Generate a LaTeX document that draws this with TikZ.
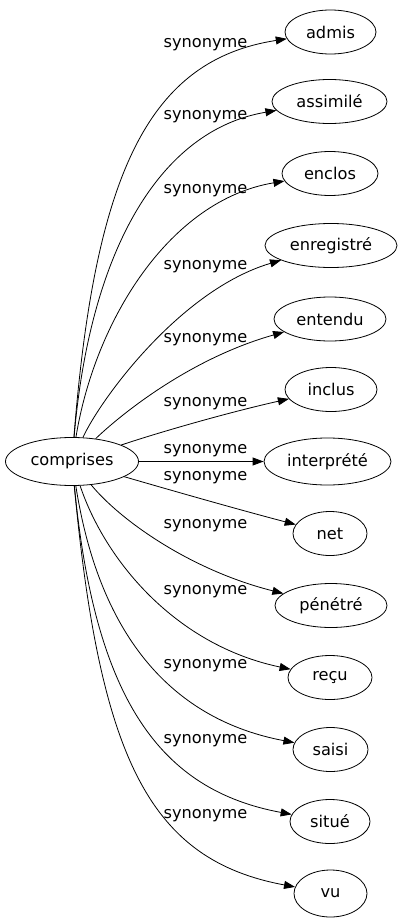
\documentclass[tikz,border=0pt]{standalone}
\usepackage{fontspec}
\setmainfont{DejaVu Sans}
\usetikzlibrary{arrows.meta,shapes.geometric}
\begin{document}
\begin{tikzpicture}[x=1pt,y=-1pt,
  every node/.style={font=\fontsize{16.2}{19}\selectfont},
  word/.style={draw,ellipse,line width=0.8pt,inner sep=0pt,minimum height=44pt},
  lab/.style={inner sep=0pt},
  edge/.style={line width=0.8pt,-{Triangle[length=11pt,width=8pt]}}]
\useasboundingbox (0,0) rectangle (402,923);
\node[word,minimum width=133pt,minimum height=48pt] (c) at (72,461.5) {comprises};
\node[word,minimum width=91pt] (t0) at (330.5,32) {admis};
\node[word,minimum width=115pt] (t1) at (329.5,101.5) {assimilé};
\node[word,minimum width=96pt] (t2) at (330,173.5) {enclos};
\node[word,minimum width=132pt] (t3) at (331,245.5) {enregistré};
\node[word,minimum width=112pt] (t4) at (330,319) {entendu};
\node[word,minimum width=92pt] (t5) at (331,389.5) {inclus};
\node[word,minimum width=127pt,minimum height=47pt] (t6) at (327.5,461.5) {interprété};
\node[word,minimum width=74pt] (t7) at (330,533.5) {net};
\node[word,minimum width=112pt] (t8) at (331,605.5) {pénétré};
\node[word,minimum width=84pt] (t9) at (330,677.5) {reçu};
\node[word,minimum width=75pt] (t10) at (330.5,749.5) {saisi};
\node[word,minimum width=80pt] (t11) at (330,821.5) {situé};
\node[word,minimum width=73pt,minimum height=47pt] (t12) at (330.5,893.5) {vu};
% edges
\draw[edge] (c) .. controls (95,170) and (150,60) .. (t0);
\draw[edge] (c) .. controls (90,250) and (160,130) .. (t1);
\draw[edge] (c) .. controls (95,320) and (170,200) .. (t2);
\draw[edge] (c) .. controls (100,400) and (180,290) .. (t3);
\draw[edge] (c) .. controls (115,420) and (185,360) .. (t4);
\draw[edge] (c) .. controls (160,432) and (230,412) .. (t5);
\draw[edge] (c) -- (t6);
\draw[edge] (c) .. controls (170,490) and (240,510) .. (t7);
\draw[edge] (c) .. controls (120,520) and (190,570) .. (t8);
\draw[edge] (c) .. controls (105,560) and (175,645) .. (t9);
\draw[edge] (c) .. controls (100,640) and (175,720) .. (t10);
\draw[edge] (c) .. controls (95,700) and (160,790) .. (t11);
\draw[edge] (c) .. controls (100,760) and (150,860) .. (t12);
% labels
\node[lab] (l0) at (205.5,45) {synonyme};
\node[lab] (l1) at (205.5,117) {synonyme};
\node[lab] (l2) at (205.5,191) {synonyme};
\node[lab] (l3) at (205.5,267) {synonyme};
\node[lab] (l4) at (205.5,340) {synonyme};
\node[lab] (l5) at (205.5,404) {synonyme};
\node[lab] (l6) at (205.5,451) {synonyme};
\node[lab] (l7) at (205.5,478) {synonyme};
\node[lab] (l8) at (205.5,526) {synonyme};
\node[lab] (l9) at (205.5,592) {synonyme};
\node[lab] (l10) at (205.5,666) {synonyme};
\node[lab] (l11) at (205.5,741) {synonyme};
\node[lab] (l12) at (205.5,816) {synonyme};
\end{tikzpicture}
\end{document}
